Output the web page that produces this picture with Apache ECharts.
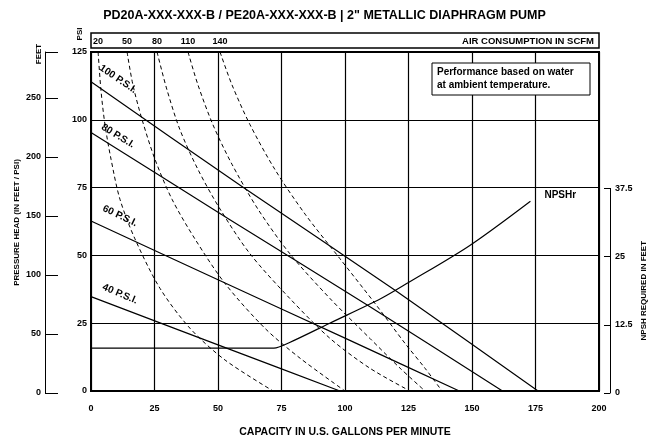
<!DOCTYPE html>
<html>
<head>
<meta charset="utf-8">
<script src="https://cdn.jsdelivr.net/npm/echarts@6/dist/echarts.min.js"></script>
<style>
  html, body { margin: 0; padding: 0; background: #fff; }
  #chart { width: 649px; height: 443px; }
</style>
</head>
<body>
<div id="chart"></div>
<script>
// axis scales
const flowTicks = [0, 25, 50, 75, 100, 125, 150, 175, 200];
const psiTicks = [0, 25, 50, 75, 100, 125];
const feetTicks = [0, 50, 100, 150, 200, 250];
const npshTicks = [0, 12.5, 25, 37.5];
const feetMax = 288.75; // 125 psi in feet of water

// air inlet pressure lines [gpm, psi]
const inletNames = ['100 P.S.I.', '80 P.S.I.', '60 P.S.I.', '40 P.S.I.'];
const inlet100 = [[0, 114], [60, 75], [120, 37], [176, 0]];
const inlet80 = [[0, 95.3], [55, 63], [110, 31], [162, 0]];
const inlet60 = [[0, 62.7], [50, 41], [100, 19.5], [145, 0]];
const inlet40 = [[0, 34.8], [50, 17], [98, 0]];

// air consumption curves [gpm, psi]
const airNames = ['20', '50', '80', '110', '140'];
const air20 = [[2.8, 125], [3.9, 111.1], [5.5, 98.2], [7.9, 85.4], [11.4, 70.7], [17.3, 56.1], [27.2, 37.8], [39.0, 23.1], [52.8, 11.4], [71.7, 0]];
const air50 = [[14.2, 125], [16.5, 112.9], [20.1, 100.1], [25.2, 85.4], [31.9, 70.7], [40.9, 56.1], [52.8, 39.6], [68.5, 23.1], [82.3, 12.1], [100, 0]];
const air80 = [[26, 125], [29.9, 111.1], [35, 96.4], [42.1, 81.7], [50.8, 67.1], [62.6, 50.6], [78.3, 34.1], [94.1, 19.4], [109.8, 8.4], [125.6, 0]];
const air110 = [[38.2, 125], [42.1, 112.9], [48, 98.2], [55.5, 83.6], [65.7, 67.1], [78.3, 50.6], [94.1, 34.1], [109.8, 19.4], [121.7, 8.4], [131.5, 0]];
const air140 = [[50.8, 125], [55.5, 112.9], [62.6, 98.2], [72.4, 81.7], [84.3, 65.2], [98, 48.8], [111.8, 32.3], [123.6, 17.6], [131.5, 8.4], [138.2, 0]];

// NPSHr [gpm, feet]
const npshr = [[0, 7.9], [72, 7.9], [78, 8.9], [94, 12.5], [114, 17], [125, 20], [149, 26.8], [173, 35]];

const font = 'Liberation Sans Narrow, Liberation Sans, Arial, sans-serif';
const txt = { color: '#000', fontFamily: font, fontWeight: 'bold', fontSize: 9 };

const chart = echarts.init(document.getElementById('chart'));

function airSeries(name, pts) {
  return {
    name: name + ' SCFM', type: 'line', xAxisIndex: 0, yAxisIndex: 0,
    smooth: 0.3, symbol: 'none', z: 3,
    lineStyle: { color: '#000', width: 1, type: [4, 3] },
    data: pts.map((p, i) => i === 0 ? {
      value: p, symbol: 'circle', symbolSize: 0.1,
      label: { show: true, position: 'top', distance: 6, formatter: name, ...txt }
    } : p)
  };
}
function inletSeries(name, pts) {
  return {
    name: name, type: 'line', xAxisIndex: 0, yAxisIndex: 0,
    smooth: 0.2, symbol: 'none', z: 3,
    lineStyle: { color: '#000', width: 1.2 },
    data: pts
  };
}
function rotLabel(text, x, y, rot) {
  return { type: 'text', x: x, y: y, rotation: rot, z: 5, style: { text: text, fill: '#000',
    font: 'bold 10px ' + font, textAlign: 'center', textVerticalAlign: 'middle' } };
}

const option = {
  animation: false,
  backgroundColor: '#fff',
  title: {
    text: 'PD20A-XXX-XXX-B / PE20A-XXX-XXX-B | 2" METALLIC DIAPHRAGM PUMP',
    left: 'center', top: 4,
    textStyle: { color: '#000', fontFamily: font, fontWeight: 'bold', fontSize: 12.5 }
  },
  grid: [
    { left: 91, right: 50, top: 52, bottom: 50, show: true, borderColor: '#000', borderWidth: 2 },
    { left: 45, width: 10, top: 52, bottom: 50 },
    { left: 560, right: 38, top: 188.4, bottom: 50 }
  ],
  xAxis: [
    {
      gridIndex: 0, type: 'value', min: 0, max: 200, interval: 25,
      name: 'CAPACITY IN U.S. GALLONS PER MINUTE', nameLocation: 'middle', nameGap: 36,
      nameTextStyle: { ...txt, fontSize: 10.5 },
      axisLine: { lineStyle: { color: '#000', width: 2 } },
      axisTick: { show: false },
      axisLabel: { ...txt, margin: 13 },
      splitLine: { lineStyle: { color: '#000', width: 1.2 } }
    },
    { gridIndex: 1, type: 'value', min: 0, max: 1, show: false },
    { gridIndex: 2, type: 'value', min: 0, max: 1, show: false }
  ],
  yAxis: [
    {
      gridIndex: 0, type: 'value', min: 0, max: 125, interval: 25,
      axisLine: { lineStyle: { color: '#000', width: 2 } },
      axisTick: { show: false },
      axisLabel: { ...txt, margin: 4 },
      splitLine: { lineStyle: { color: '#000', width: 1.2 } }
    },
    { gridIndex: 0, type: 'value', min: 0, max: 62.5, show: false },
    {
      gridIndex: 1, type: 'value', min: 0, max: feetMax, position: 'left',
      name: 'PRESSURE HEAD (IN FEET / PSI)', nameLocation: 'middle', nameGap: 24,
      nameTextStyle: { ...txt, fontSize: 8 },
      axisLine: { show: true, onZero: false, lineStyle: { color: '#000', width: 1 } },
      axisTick: { show: true, inside: true, length: 13, lineStyle: { color: '#000' },
        customValues: feetTicks.concat([feetMax]) },
      axisLabel: { ...txt, margin: 4, customValues: feetTicks },
      splitLine: { show: false }
    },
    {
      gridIndex: 2, type: 'value', min: 0, max: 37.5, interval: 12.5, position: 'right',
      name: 'NPSH REQUIRED IN FEET', nameLocation: 'middle', nameGap: 30,
      nameTextStyle: { ...txt, fontSize: 8 },
      axisLine: { show: true, onZero: false, lineStyle: { color: '#000', width: 1 } },
      axisTick: { show: true, inside: true, length: 6, lineStyle: { color: '#000' } },
      axisLabel: { ...txt, margin: 5 },
      splitLine: { show: false }
    }
  ],
  graphic: [
    { type: 'rect', z: 1, shape: { x: 91, y: 33, width: 508, height: 15 },
      style: { fill: '#fff', stroke: '#000', lineWidth: 1.5 } },
    { type: 'text', z: 2, x: 594, y: 41, style: { text: 'AIR CONSUMPTION IN SCFM',
      fill: '#000', font: 'bold 9.5px ' + font, textAlign: 'right', textVerticalAlign: 'middle' } },
    { type: 'rect', z: 1, shape: { x: 432, y: 63, width: 158, height: 32 },
      style: { fill: '#fff', stroke: '#000', lineWidth: 1 } },
    { type: 'text', z: 2, x: 437, y: 79, style: { text: 'Performance based on water\nat ambient temperature.',
      fill: '#000', font: 'bold 10px ' + font, textVerticalAlign: 'middle', lineHeight: 13 } },
    { type: 'text', x: 80, y: 34, rotation: Math.PI / 2, style: { text: 'PSI', fill: '#000',
      font: 'bold 8px ' + font, textAlign: 'center', textVerticalAlign: 'middle' } },
    { type: 'text', x: 39, y: 54, rotation: Math.PI / 2, style: { text: 'FEET', fill: '#000',
      font: 'bold 8px ' + font, textAlign: 'center', textVerticalAlign: 'middle' } },
    rotLabel(inletNames[0], 118, 79, -0.6),
    rotLabel(inletNames[1], 118, 136, -0.55),
    rotLabel(inletNames[2], 120, 216, -0.45),
    rotLabel(inletNames[3], 120, 294, -0.4)
  ],
  series: [
    inletSeries(inletNames[0], inlet100),
    inletSeries(inletNames[1], inlet80),
    inletSeries(inletNames[2], inlet60),
    inletSeries(inletNames[3], inlet40),
    airSeries(airNames[0], air20),
    airSeries(airNames[1], air50),
    airSeries(airNames[2], air80),
    airSeries(airNames[3], air110),
    airSeries(airNames[4], air140),
    {
      name: 'NPSHr', type: 'line', xAxisIndex: 0, yAxisIndex: 1,
      smooth: 0.3, symbol: 'none', z: 3,
      lineStyle: { color: '#000', width: 1.2 },
      endLabel: { show: true, formatter: 'NPSHr', ...txt, fontSize: 10, offset: [6, -6] },
      data: npshr
    }
  ]
};
chart.setOption(option);
</script>
</body>
</html>
